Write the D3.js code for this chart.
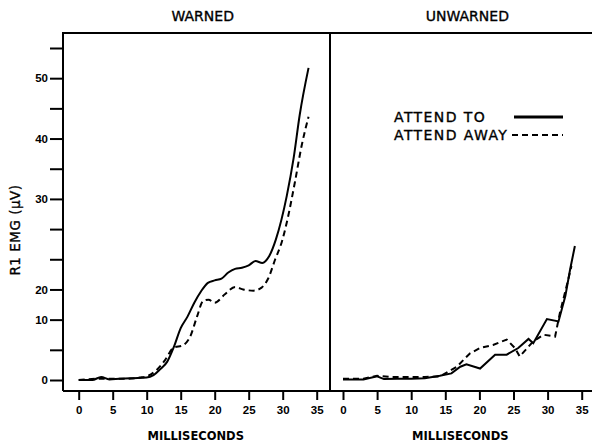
<!DOCTYPE html>
<html>
<head>
<meta charset="utf-8">
<script src="https://cdn.jsdelivr.net/npm/d3@7"></script>
<style>
  body { margin: 0; background: #fff; }
  svg { display: block; font-family: "DejaVu Sans", sans-serif; }
  .frame { stroke: #000; stroke-width: 2; fill: none; }
  .tick line { stroke: #000; stroke-width: 2; }
  .tick text { font-size: 11.5px; font-weight: bold; fill: #000; }
  .domain { display: none; }
  .series { fill: none; stroke: #000; stroke-width: 2; }
  .series.away { stroke-dasharray: 6 4; }
  .label { stroke: #000; stroke-width: 0.35; }
</style>
</head>
<body>
<svg id="chart" width="592" height="443"></svg>
<script>
// panel titles and series names
const PANELS = ["WARNED", "UNWARNED"];
const SERIES = ["ATTEND TO", "ATTEND AWAY"];

// x ticks (ms) and y ticks (plot units) with the labels printed on the original
const X_TICKS = [0, 5, 10, 15, 20, 25, 30, 35];
const Y_TICKS = [0, 5, 10, 15, 20, 25, 30, 35, 40, 45, 50, 55];
const Y_LABELS = ["0", "", "10", "20", "", "", "30", "", "40", "", "50", ""];

// [ms, value]
const warnedTo = [
    [0, 0], [2, 0], [3.3, 0.5], [4.5, 0.1], [6, 0.2], [8, 0.3], [10, 0.4],
    [11, 0.8], [12, 1.8], [13, 3], [14, 5.5], [15, 8.6], [16, 10.5], [17, 12.8],
    [18, 14.7], [19, 16.1], [20, 16.5], [21, 16.8], [22, 17.8], [23, 18.4],
    [24, 18.6], [25, 19.0], [26, 19.7], [27, 19.4], [28, 20.5], [29, 23.3],
    [30.6, 30.5], [31.6, 36.7], [32.5, 43.9], [33.8, 51.7]
];
const warnedAway = [
    [0, 0], [3, 0.2], [5, 0.2], [7, 0.2], [9, 0.4], [10, 0.6], [11.5, 1.7],
    [12.7, 3.3], [13.9, 5.3], [15.4, 5.8], [16.4, 7.2], [17.4, 10.5], [18.3, 13.1],
    [19.1, 13.3], [20, 12.8], [21.5, 14.2], [23, 15.4], [24.2, 15.0], [25.7, 14.8],
    [26.9, 15.3], [27.9, 16.9], [28.9, 20], [29.9, 23], [30.6, 26.1], [31.8, 32.8],
    [32.8, 38.9], [33.8, 43.6]
];
const unwarnedTo = [
    [0, 0.1], [3, 0.1], [5, 0.6], [6, 0.15], [8, 0.2], [10, 0.2], [12, 0.3],
    [14.2, 0.7], [15.9, 1.1], [17.2, 2.2], [18.1, 2.6], [20.1, 1.9], [22.3, 4.2],
    [24, 4.2], [25.7, 5.3], [27.2, 6.8], [27.9, 6.1], [29.9, 10.1], [31.6, 9.7],
    [32.6, 13.9], [33.3, 18.3], [34, 22.2]
];
const unwarnedAway = [
    [0, 0.2], [3, 0.2], [5, 0.7], [7, 0.5], [10, 0.5], [12, 0.5], [14.2, 0.6],
    [16.7, 2.2], [18.6, 4.4], [20.1, 5.3], [22, 5.8], [24, 6.7], [25.2, 5.3],
    [25.9, 3.9], [27.9, 6.4], [29.4, 7.5], [31.1, 7.2], [31.8, 11.1], [32.8, 15.6],
    [33.5, 18.9]
];

const FRAME = {left: 63, top: 33, bottom: 391, divider: 330, right: 592};

let svg = d3.select("#chart");

let y = d3.scaleLinear().domain([0, 55]).range([380, 48]);

let panels = [
    {title: PANELS[0], x: d3.scaleLinear().domain([0, 35]).range([78.7, 316.7]),
     to: warnedTo, away: warnedAway, curve: d3.curveMonotoneX},
    {title: PANELS[1], x: d3.scaleLinear().domain([0, 35]).range([343, 581.7]),
     to: unwarnedTo, away: unwarnedAway, curve: d3.curveLinear}
];

// frame: top, left, divider, bottom
svg.append("path")
    .attr("class", "frame")
    .attr("d", `M${FRAME.left},${FRAME.bottom}V${FRAME.top}H${FRAME.right}` +
               `M${FRAME.divider},${FRAME.top}V${FRAME.bottom}` +
               `M${FRAME.left},${FRAME.bottom}H${FRAME.right}`);

// y axis
let yAxis = d3.axisLeft(y)
    .tickValues(Y_TICKS)
    .tickSize(13)
    .tickPadding(2)
    .tickFormat((d, i) => Y_LABELS[i]);

svg.append("g")
    .attr("transform", `translate(${FRAME.left},0)`)
    .call(yAxis);

svg.append("text")
    .attr("class", "label")
    .attr("transform", "translate(20,230) rotate(-90)")
    .attr("text-anchor", "middle")
    .style("font-size", "13.5px")
    .style("letter-spacing", "0.5px")
    .text("R1 EMG (\u03bcV)");

panels.forEach(p => {
    let xAxis = d3.axisBottom(p.x)
        .tickValues(X_TICKS)
        .tickSize(9)
        .tickPadding(6);

    svg.append("g")
        .attr("transform", `translate(0,${FRAME.bottom})`)
        .call(xAxis);

    let [x0, x1] = p.x.range();
    let mid = (x0 + x1) / 2;

    svg.append("text")
        .attr("class", "label")
        .attr("x", mid + 5)
        .attr("y", 21)
        .attr("text-anchor", "middle")
        .style("font-size", "14px")
        .text(p.title);

    svg.append("text")
        .attr("x", mid - 2)
        .attr("y", 440)
        .attr("text-anchor", "middle")
        .style("font-size", "11.5px")
        .style("font-weight", "bold")
        .text("MILLISECONDS");

    let line = d3.line()
        .x(d => p.x(d[0]))
        .y(d => y(d[1]))
        .curve(p.curve);

    svg.append("path").attr("class", "series to").attr("d", line(p.to));
    svg.append("path").attr("class", "series away").attr("d", line(p.away));
});

// legend in the unwarned panel
let legend = svg.append("g").attr("class", "legend");
SERIES.forEach((name, i) => {
    let yy = 122 + i * 18;
    legend.append("text")
        .attr("class", "label")
        .attr("x", 394)
        .attr("y", yy)
        .style("font-size", "14px")
        .style("letter-spacing", "1.4px")
        .text(name);
    legend.append("line")
        .attr("class", "series" + (i ? " away" : ""))
        .attr("x1", i ? 512 : 514)
        .attr("x2", 563)
        .attr("y1", yy - 5)
        .attr("y2", yy - 5)
        .style("stroke-width", i ? 2 : 3);
});
</script>
</body>
</html>
